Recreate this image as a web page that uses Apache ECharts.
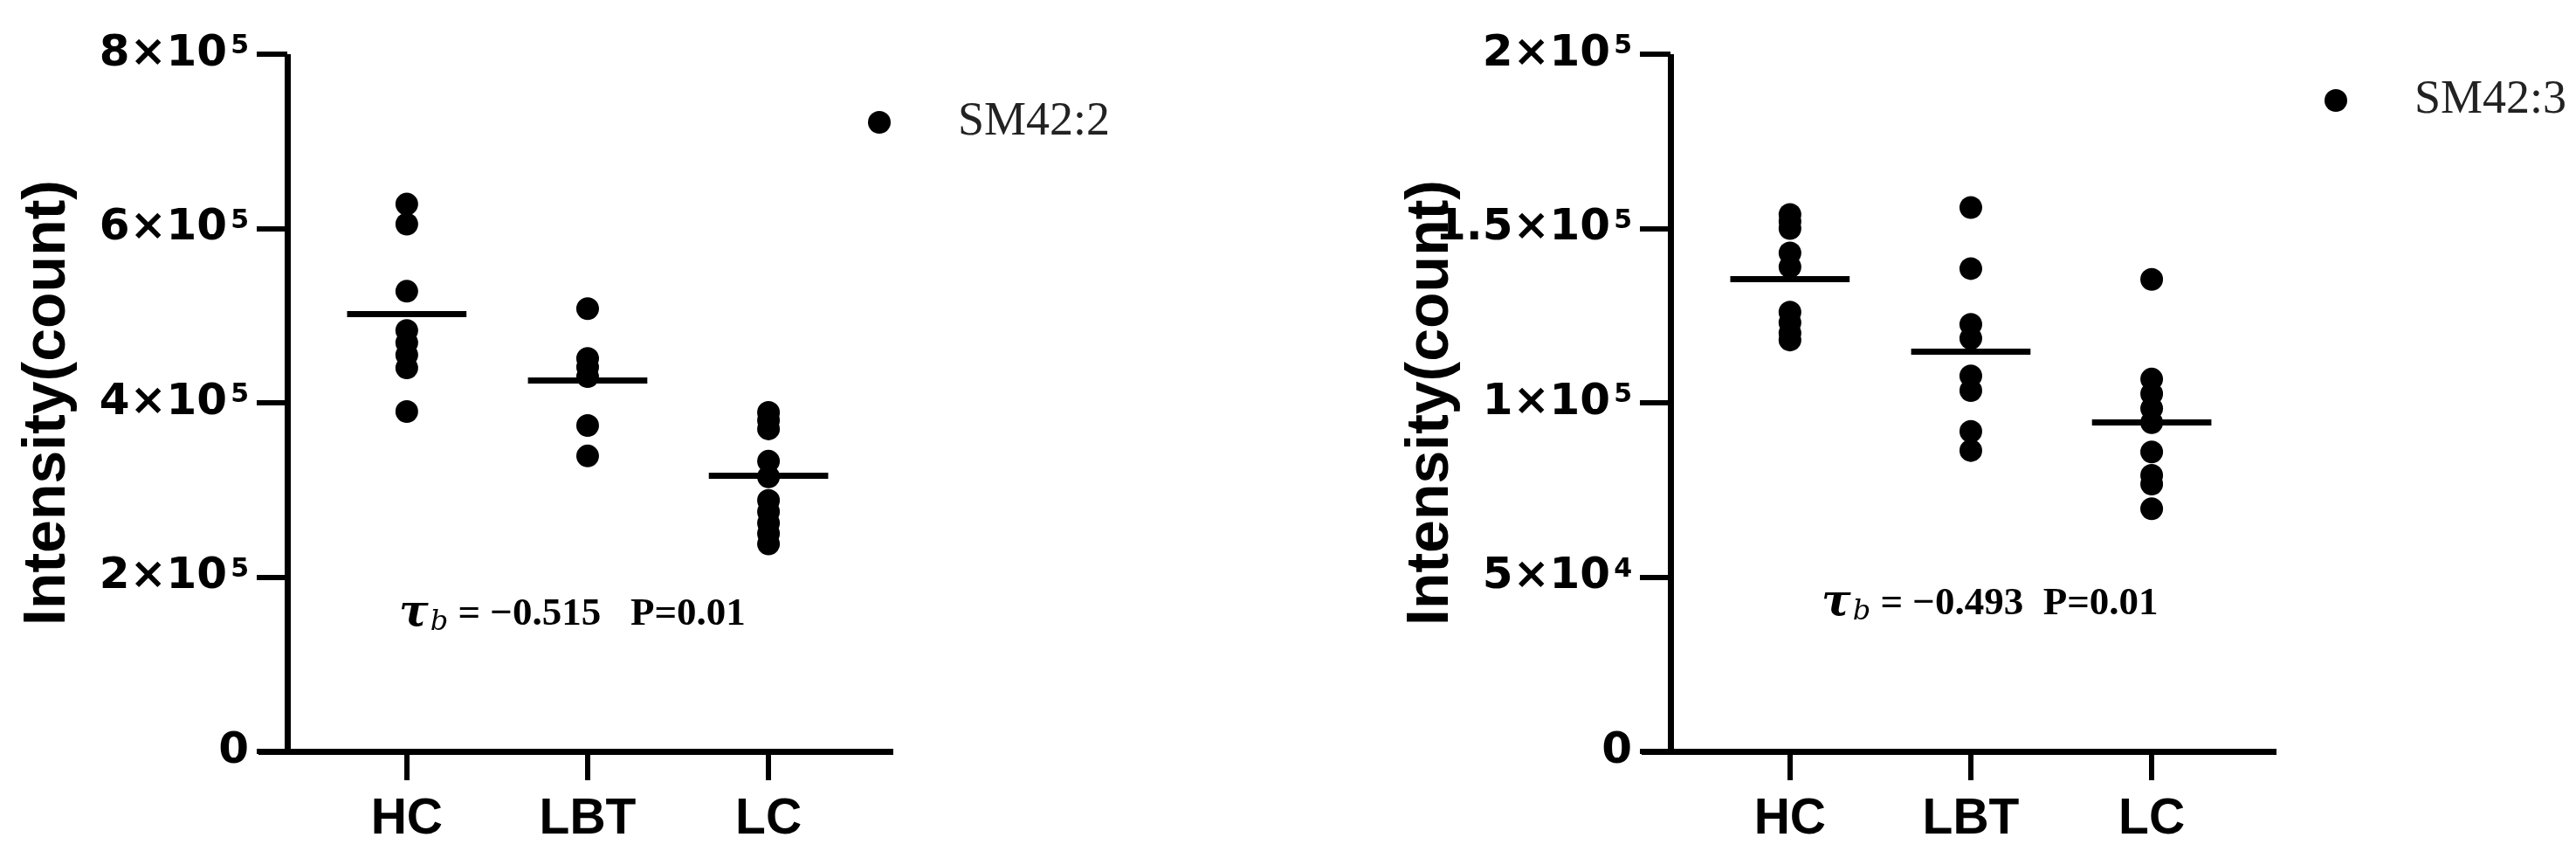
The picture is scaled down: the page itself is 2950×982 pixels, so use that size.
<!DOCTYPE html>
<html>
<head>
<meta charset="utf-8">
<script src="https://cdn.jsdelivr.net/npm/echarts@6/dist/echarts.min.js"></script>
<style>
html,body{margin:0;padding:0;background:#fff;}
#chart{width:2950px;height:982px;}
</style>
</head>
<body>
<div id="chart"></div>
<script>
// ---- data ----
const categories = ['HC', 'LBT', 'LC'];

// left panel: SM42:2
const sm422Name = 'SM42:2';
const sm422_HC  = [6.28e5, 6.05e5, 5.28e5, 4.83e5, 4.69e5, 4.55e5, 4.40e5, 3.90e5];
const sm422_LBT = [5.08e5, 4.51e5, 4.41e5, 4.30e5, 3.74e5, 3.39e5];
const sm422_LC  = [3.89e5, 3.80e5, 3.70e5, 3.33e5, 3.15e5, 2.88e5, 2.75e5, 2.62e5, 2.50e5, 2.38e5];
const sm422_means = [5.02e5, 4.26e5, 3.17e5];
const sm422_ticks = [0, 2e5, 4e5, 6e5, 8e5];
const sm422_tickLabels = [['0', ''], ['2', '5'], ['4', '5'], ['6', '5'], ['8', '5']];
const sm422_note = { tau: '-0.515', p: '0.01' };

// right panel: SM42:3
const sm423Name = 'SM42:3';
const sm423_HC  = [1.54e5, 1.52e5, 1.50e5, 1.43e5, 1.39e5, 1.26e5, 1.23e5, 1.20e5, 1.18e5];
const sm423_LBT = [1.56e5, 1.385e5, 1.225e5, 1.185e5, 1.077e5, 1.035e5, 0.918e5, 0.863e5];
const sm423_LC  = [1.354e5, 1.068e5, 1.026e5, 0.984e5, 0.943e5, 0.859e5, 0.792e5, 0.767e5, 0.696e5];
const sm423_means = [1.355e5, 1.148e5, 0.943e5];
const sm423_ticks = [0, 5e4, 1e5, 1.5e5, 2e5];
const sm423_tickLabels = [['0', ''], ['5', '4'], ['1', '5'], ['1.5', '5'], ['2', '5']];
const sm423_note = { tau: '-0.493', p: '0.01' };

// ---- build ----
const chart = echarts.init(document.getElementById('chart'), null, { renderer: 'canvas' });

const sans = 'Liberation Sans';
const wide = 'DejaVu Sans';
const serif = 'Liberation Serif';

function points(groups) {
  const out = [];
  groups.forEach((g, i) => g.forEach(v => out.push([i, v])));
  return out;
}
function meanLines(means) {
  return means.map((m, i) => [
    { coord: [i - 0.33, m] },
    { coord: [i + 0.33, m] }
  ]);
}
function yFormatter(ticks, labels) {
  return function (v) {
    const idx = ticks.findIndex(t => Math.abs(t - v) < 1e-6 * Math.max(1, Math.abs(t)));
    if (idx < 0) return '';
    const [m, e] = labels[idx];
    if (!e) return '{m|' + m + '}';
    return '{m|' + m + '×10}{e|' + e + '}';
  };
}

const gridW = 727, gridTop = 62, gridH = 798;
const xMin = -0.82, xMax = 2.69;

function makeX(gridIndex) {
  return {
    type: 'value', gridIndex, min: xMin, max: xMax,
    splitLine: { show: false },
    axisLine: { show: true, onZero: false, lineStyle: { color: '#000', width: 7, cap: 'butt' } },
    axisTick: { show: true, customValues: [0, 1, 2], length: 33, lineStyle: { color: '#000', width: 6 } },
    axisLabel: {
      show: true, customValues: [0, 1, 2], margin: 50,
      formatter: v => categories[Math.round(v)] || '',
      color: '#000', fontFamily: sans, fontWeight: 'bold', fontSize: 57
    }
  };
}
function makeY(gridIndex, max, interval, ticks, labels) {
  return {
    type: 'value', gridIndex, min: 0, max, interval, offset: -33,
    name: 'Intensity(count)', nameLocation: 'middle', nameRotate: 90, nameGap: 240,
    nameMoveOverlap: false,
    nameTextStyle: { color: '#000', fontFamily: sans, fontWeight: 'bold', fontSize: 68 },
    splitLine: { show: false },
    axisLine: { show: true, onZero: false, lineStyle: { color: '#000', width: 7, cap: 'butt' } },
    axisTick: { show: true, length: 35, lineStyle: { color: '#000', width: 6 } },
    axisLabel: {
      show: true, margin: 44, formatter: yFormatter(ticks, labels),
      rich: {
        m: { color: '#000', fontFamily: wide, fontWeight: 'bold', fontSize: 50 },
        e: { color: '#000', fontFamily: wide, fontWeight: 'bold', fontSize: 30, padding: [0, 0, 17, 4] }
      }
    }
  };
}
function makeSeries(name, idx, groups, means) {
  return {
    name, type: 'scatter', xAxisIndex: idx, yAxisIndex: idx,
    data: points(groups), symbol: 'circle', symbolSize: 26,
    itemStyle: { color: '#000', opacity: 1, borderWidth: 0 },
    emphasis: { disabled: true },
    markLine: {
      silent: true, symbol: 'none', animation: false,
      label: { show: false },
      lineStyle: { color: '#000', width: 7, type: 'solid' },
      emphasis: { disabled: true },
      data: meanLines(means)
    }
  };
}
function makeLegend(name, left, top) {
  return {
    data: [name], left, top, orient: 'vertical',
    icon: 'circle', itemWidth: 26, itemHeight: 26, selectedMode: false,
    itemStyle: { color: '#000' },
    formatter: '{t|{name}}',
    textStyle: {
      rich: { t: { fontFamily: serif, fontSize: 54, color: '#222', padding: [0, 0, 0, 72] } }
    }
  };
}
function note(x, y, n, gap) {
  return {
    type: 'text', left: x, top: y,
    style: {
      text: '{tau|τ}{sub|b}{eq| = −' + n.tau.replace('-', '') + gap + 'P=' + n.p + '}',
      rich: {
        tau: { fontFamily: 'DejaVu Serif', fontStyle: 'italic', fontWeight: 'bold', fontSize: 50, color: '#444' },
        sub: { fontFamily: 'DejaVu Serif', fontStyle: 'italic', fontSize: 32, color: '#888', padding: [20, 0, 0, 2] },
        eq: { fontFamily: serif, fontWeight: 'bold', fontSize: 45, color: '#111' }
      }
    }
  };
}

const option = {
  backgroundColor: '#fff',
  animation: false,
  grid: [
    { left: 296, top: gridTop, width: gridW, height: gridH },
    { left: 1880, top: gridTop, width: gridW, height: gridH }
  ],
  xAxis: [makeX(0), makeX(1)],
  yAxis: [
    makeY(0, 8e5, 2e5, sm422_ticks, sm422_tickLabels),
    makeY(1, 2e5, 5e4, sm423_ticks, sm423_tickLabels)
  ],
  legend: [makeLegend(sm422Name, 989, 108), makeLegend(sm423Name, 2657, 83)],
  series: [
    makeSeries(sm422Name, 0, [sm422_HC, sm422_LBT, sm422_LC], sm422_means),
    makeSeries(sm423Name, 1, [sm423_HC, sm423_LBT, sm423_LC], sm423_means)
  ],
  graphic: [
    note(457, 678, sm422_note, '   '),
    note(2086, 666, sm423_note, '  ')
  ]
};
chart.setOption(option);
</script>
</body>
</html>
